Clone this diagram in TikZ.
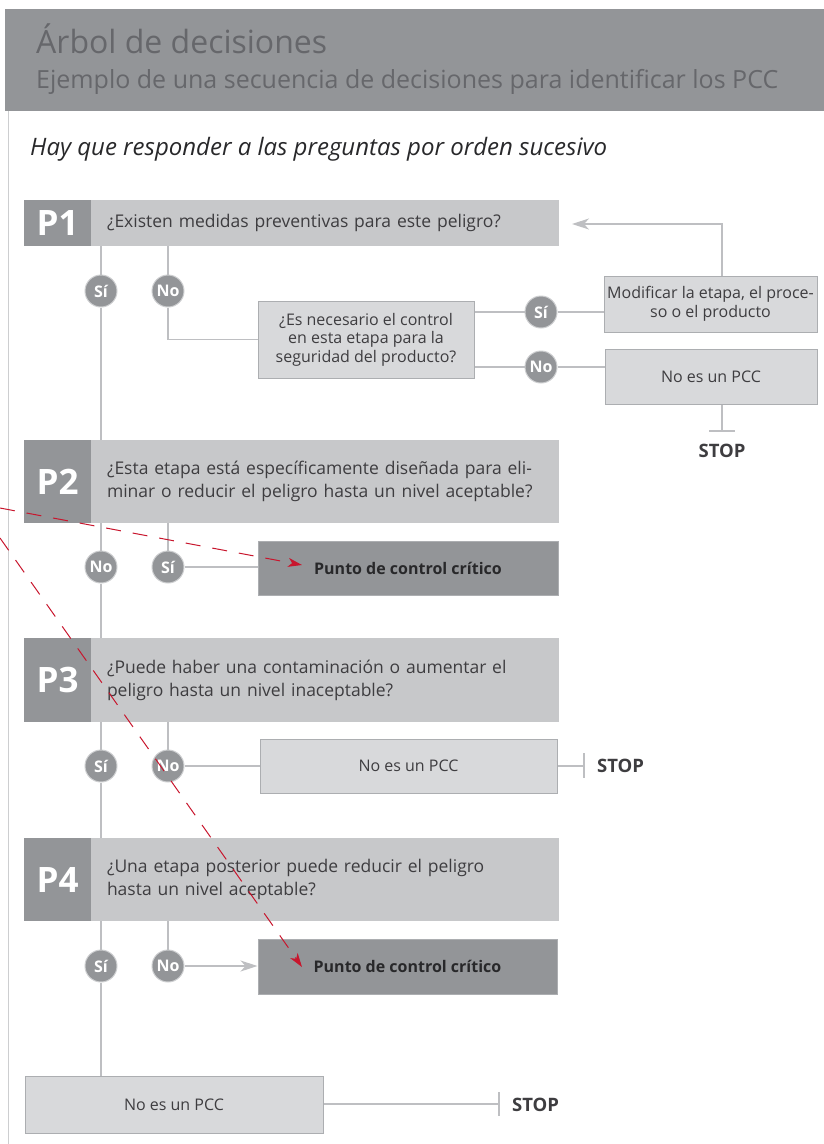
\documentclass[tikz,border=0pt]{standalone}
\usepackage{fontspec}
\setmainfont{Open Sans}
\usetikzlibrary{arrows.meta,calc}
\definecolor{hdr}{RGB}{147,149,152}
\definecolor{ttl}{RGB}{102,103,107}
\definecolor{pdk}{RGB}{147,149,152}
\definecolor{plt}{RGB}{199,200,202}
\definecolor{bxf}{RGB}{216,217,219}
\definecolor{bxd}{RGB}{172,174,177}
\definecolor{lncol}{RGB}{190,191,194}
\definecolor{ring}{RGB}{205,206,208}
\definecolor{txt}{RGB}{62,61,64}
\definecolor{pcctxt}{RGB}{40,40,42}
\definecolor{redc}{RGB}{200,22,45}
\definecolor{framec}{RGB}{205,206,208}
\tikzset{
  ln/.style={draw=lncol, line width=1.6pt},
  thinln/.style={draw=lncol, line width=1.2pt},
  pdark/.style={fill=pdk, minimum width=67pt, inner sep=0pt, text=white, font=\fontsize{35}{35}\selectfont\bfseries},
  plight/.style={fill=plt, minimum width=468pt, text width=436pt, inner xsep=16pt, inner ysep=0pt, align=left, text=txt, font=\fontsize{17.5}{23}\selectfont},
  boxn/.style={fill=bxf, draw=bxd, line width=1pt, inner sep=0pt, align=center, text=txt, font=\fontsize{16}{18.5}\selectfont},
  pccn/.style={fill=pdk, draw=bxd, line width=1pt, inner sep=0pt, text=pcctxt, font=\fontsize{16}{18}\selectfont\bfseries},
  yn/.style={circle, fill=pdk, draw=ring, line width=1pt, minimum size=32pt, inner sep=0pt, text=white, font=\fontsize{16}{16}\selectfont\bfseries},
  stoptxt/.style={text=txt, font=\fontsize{18.5}{18.5}\selectfont\bfseries, inner sep=0pt},
  garrow/.style={-{Stealth[length=17pt,width=11pt,inset=5pt]}},
  redarrow/.style={draw=redc, line width=1pt, dash pattern=on 15pt off 12pt, -{Stealth[length=14pt,width=9pt,inset=4pt]}},
}
\begin{document}
\begin{tikzpicture}[x=1pt,y=-1pt]
\useasboundingbox (0,0) rectangle (824,1144);
% header
\fill[hdr] (5,9) rectangle (824,111);
\node[anchor=base west, inner sep=0pt, text=ttl, font=\fontsize{32}{32}\selectfont] (title) at (36,53) {Árbol de decisiones};
\node[anchor=base west, inner sep=0pt, text=ttl, font=\fontsize{25}{25}\selectfont] (sub) at (36,88) {Ejemplo de una secuencia de decisiones para identificar los PCC};
\draw[framec, line width=1pt] (8,111) -- (8,1144);
\node[anchor=base west, inner sep=0pt, text=pcctxt, font=\fontsize{24}{24}\selectfont\itshape] (hint) at (30,155) {Hay que responder a las preguntas por orden sucesivo};

% P blocks
\node[pdark, minimum height=46pt] (p1n) at (57.5,223) {P1};
\node[plight, minimum height=46pt] (p1) at (325,223) {¿Existen medidas preventivas para este peligro?};
\node[pdark, minimum height=83pt] (p2n) at (57.5,481.5) {P2};
\node[plight, minimum height=83pt] (p2) at (325,481.5) {¿Esta etapa está específicamente diseñada para eli-\\minar o reducir el peligro hasta un nivel aceptable?};
\node[pdark, minimum height=84pt] (p3n) at (57.5,680) {P3};
\node[plight, minimum height=84pt] (p3) at (325,680) {¿Puede haber una contaminación o aumentar el\\peligro hasta un nivel inaceptable?};
\node[pdark, minimum height=83pt] (p4n) at (57.5,879.5) {P4};
\node[plight, minimum height=83pt] (p4) at (325,879.5) {¿Una etapa posterior puede reducir el peligro\\hasta un nivel aceptable?};

% P1 branch
\node[yn] (s1) at (101,291) {Sí};
\node[yn] (n1) at (168,291) {No};
\node[boxn, minimum width=216pt, minimum height=77pt] (q) at (366,339.5) {¿Es necesario el control\\en esta etapa para la\\seguridad del producto?};
\node[yn] (s1b) at (541,312) {Sí};
\node[yn] (n1b) at (541,367) {No};
\node[boxn, minimum width=213pt, minimum height=56pt] (mod) at (710.5,304) {Modificar la etapa, el proce-\\so o el producto};
\node[boxn, minimum width=212pt, minimum height=55pt] (npcc1) at (711,376.5) {No es un PCC};
\coordinate (ret) at (572,224);
\coordinate (stop1bar) at (722,431);
\node[stoptxt] (stop1) at (722,451) {STOP};

\draw[ln] (s1) -- (p1.south -| s1);
\draw[ln] (s1) -- (p2.north -| s1);
\draw[ln] (n1) -- (p1.south -| n1);
\draw[thinln] (n1) |- (q.west);
\draw[thinln] (q.east |- s1b) -- (s1b);
\draw[thinln] (s1b) -- (mod.west |- s1b);
\draw[thinln] (q.east |- n1b) -- (n1b);
\draw[thinln] (n1b) -- (npcc1.west |- n1b);
\draw[thinln, garrow] ($(mod.north)+(11.5,0)$) |- (ret);
\draw[thinln] ($(npcc1.south)+(11,0)$) -- (stop1bar);
\draw[thinln] ($(stop1bar)+(-13,0)$) -- ($(stop1bar)+(13,0)$);

% P2 branch
\node[yn] (n2) at (101,567) {No};
\node[yn] (s2) at (168,567) {Sí};
\node[pccn, minimum width=300pt, minimum height=54pt] (pcc2) at (408,568) {Punto de control crítico};
\draw[ln] (n2) -- (p2.south -| n2);
\draw[ln] (n2) -- (p3.north -| n2);
\draw[ln] (s2) -- (p2.south -| s2);
\draw[thinln] (s2) -- (pcc2.west |- s2);

% P3 branch
\node[yn] (s3) at (101,766) {Sí};
\node[yn] (n3) at (168,766) {No};
\node[boxn, minimum width=297pt, minimum height=54pt] (npcc3) at (408.5,766) {No es un PCC};
\coordinate (stop3bar) at (584,766);
\node[stoptxt, anchor=west] (stop3) at (597,766) {STOP};
\draw[ln] (s3) -- (p3.south -| s3);
\draw[ln] (s3) -- (p4.north -| s3);
\draw[ln] (n3) -- (p3.south -| n3);
\draw[thinln] (n3) -- (npcc3.west |- n3);
\draw[thinln] (npcc3.east) -- (stop3bar);
\draw[thinln] ($(stop3bar)+(0,-13)$) -- ($(stop3bar)+(0,12)$);

% P4 branch
\node[yn] (s4) at (101,966) {Sí};
\node[yn] (n4) at (168,966) {No};
\node[pccn, minimum width=299pt, minimum height=55pt] (pcc4) at (407.5,966.5) {Punto de control crítico};
\node[boxn, minimum width=298pt, minimum height=57pt] (npcc5) at (174,1104.5) {No es un PCC};
\coordinate (stop5bar) at (499,1104);
\node[stoptxt, anchor=west] (stop5) at (512,1105) {STOP};
\draw[ln] (s4) -- (p4.south -| s4);
\draw[ln] (n4) -- (p4.south -| n4);
\draw[ln, garrow] (n4) -- (pcc4.west |- n4);
\draw[ln] (s4) -- (npcc5.north -| s4);
\draw[thinln] (npcc5.east |- stop5bar) -- (stop5bar);
\draw[thinln] ($(stop5bar)+(0,-12)$) -- ($(stop5bar)+(0,12)$);

% red dashed annotations
\coordinate (r1s) at (0,508);
\coordinate (r1e) at (302,565);
\coordinate (r2s) at (0,538);
\coordinate (r2e) at (302,967);
\draw[redarrow] (r1s) -- (r1e);
\draw[redarrow] (r2s) -- (r2e);
\end{tikzpicture}
\end{document}
